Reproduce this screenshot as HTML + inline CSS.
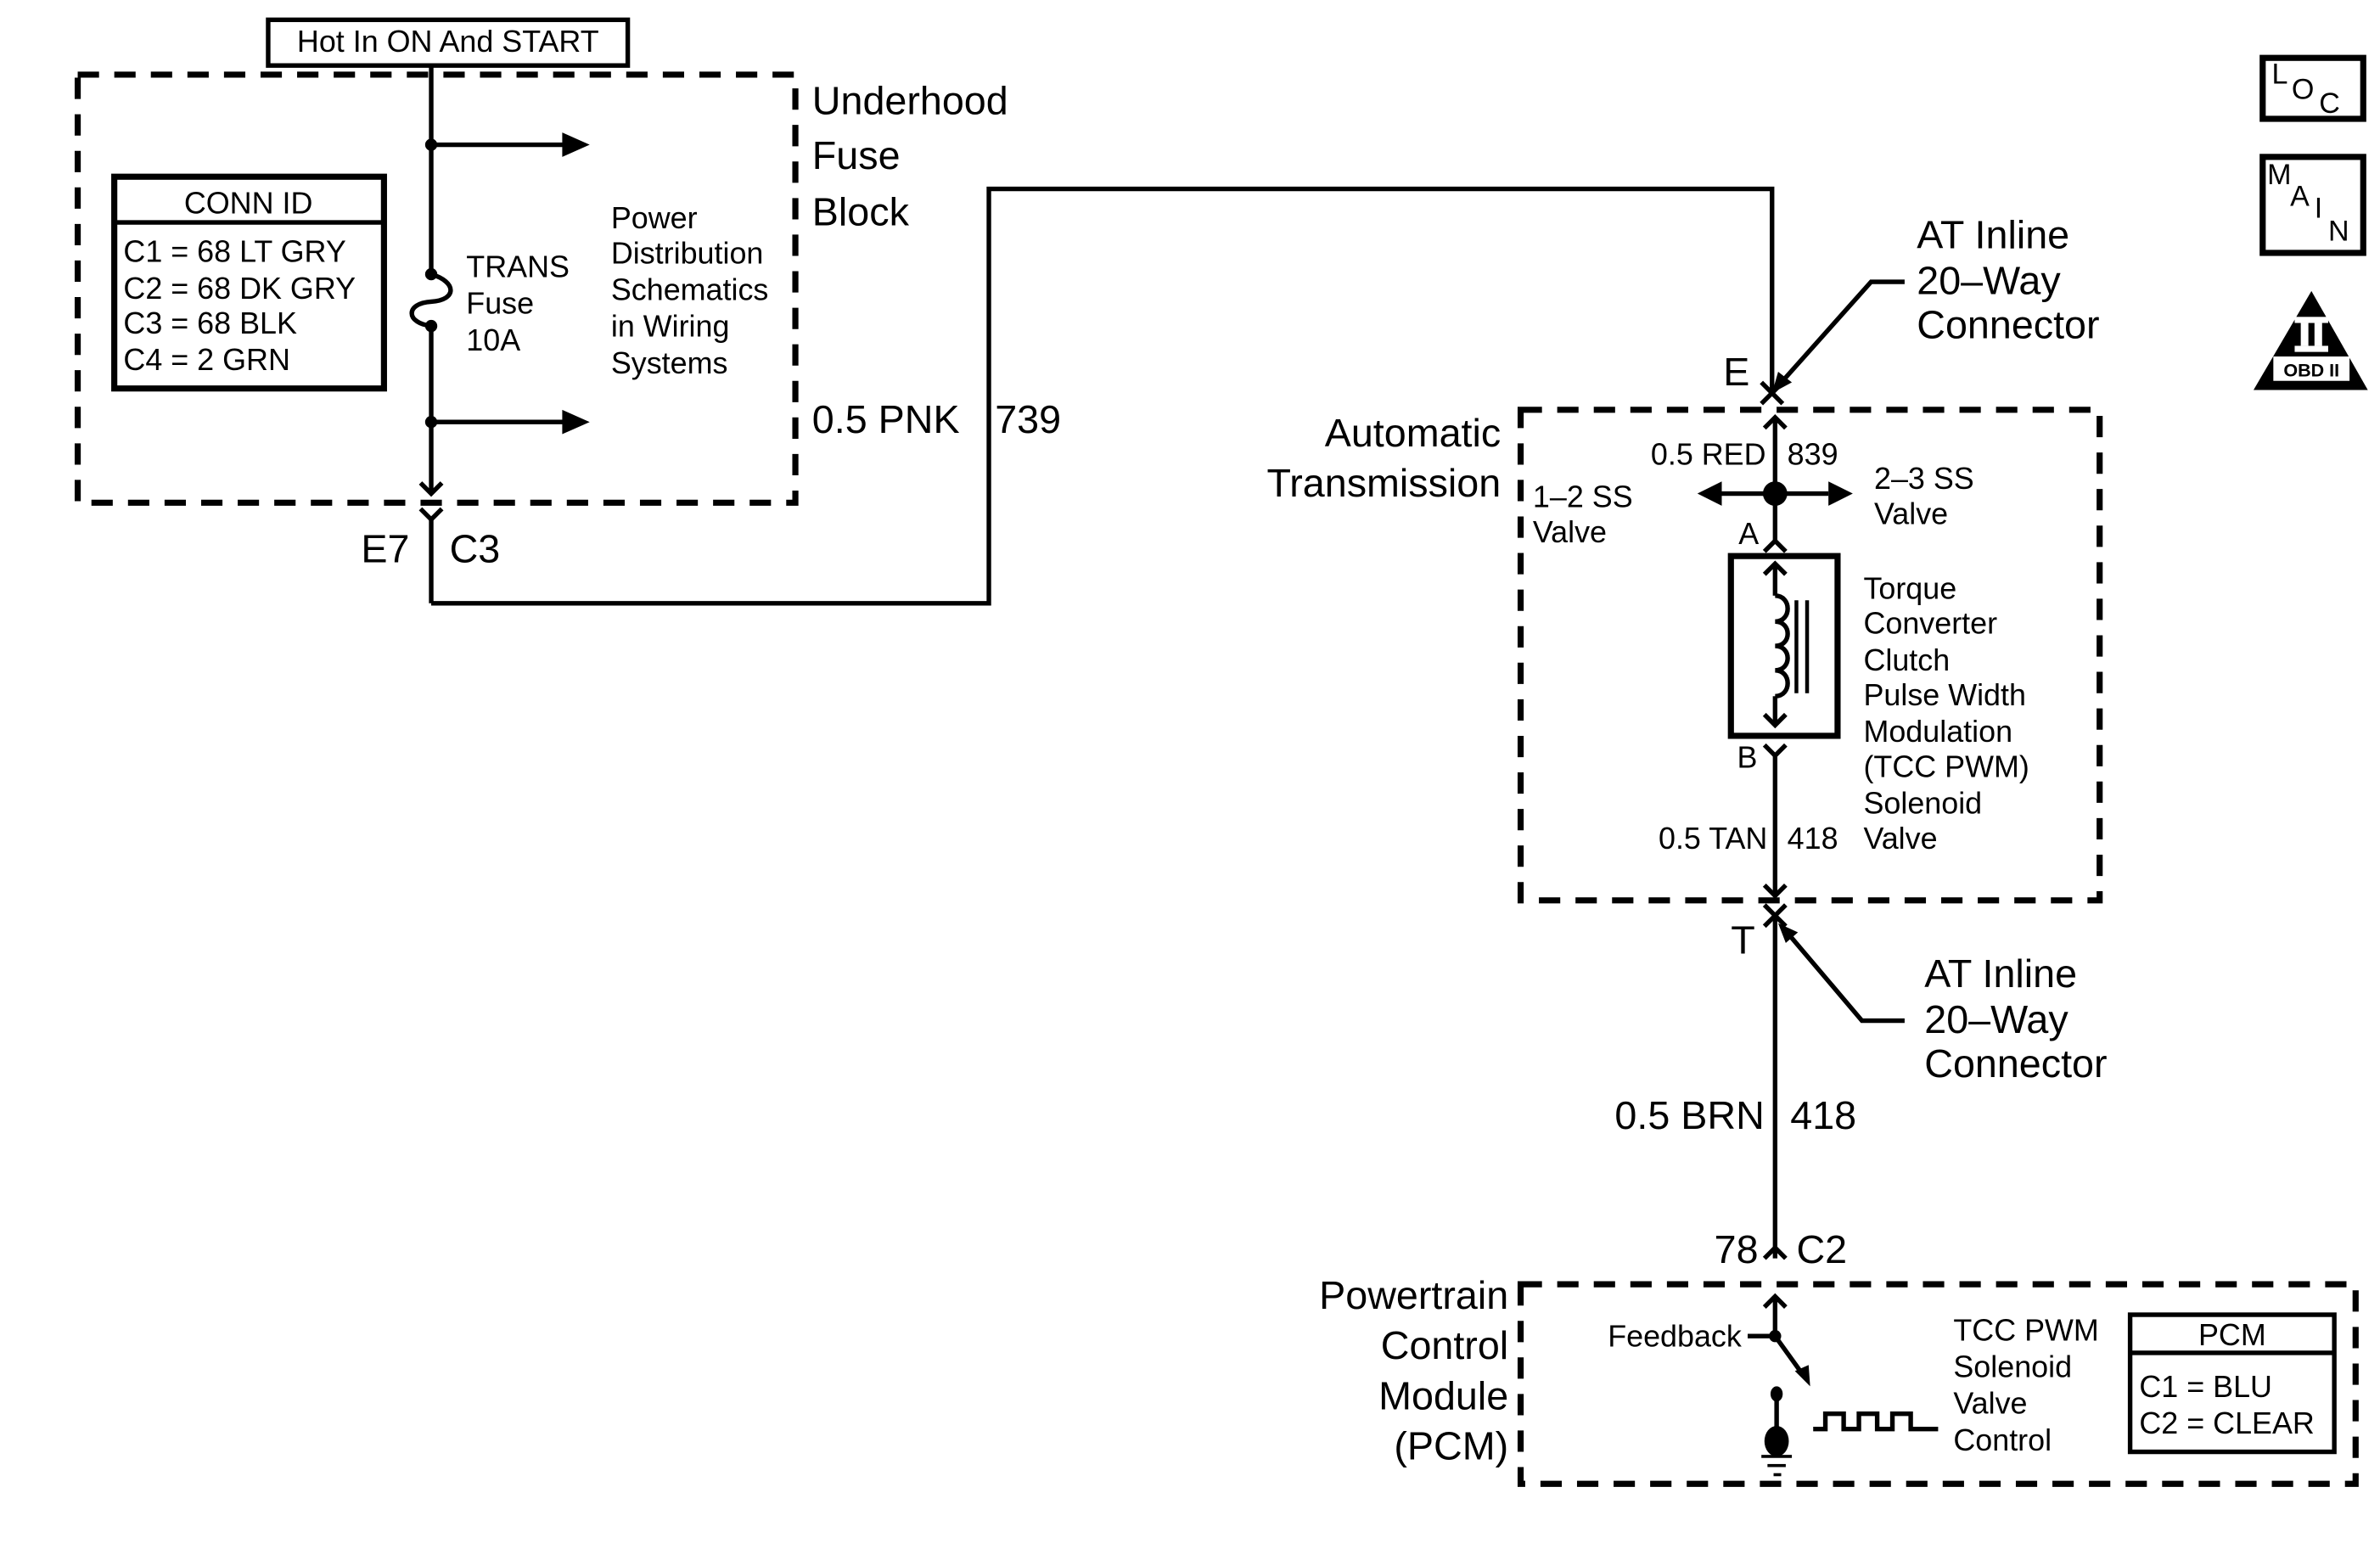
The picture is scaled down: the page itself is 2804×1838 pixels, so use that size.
<!DOCTYPE html>
<html><head><meta charset="utf-8"><style>
html,body{margin:0;padding:0;background:#fff;width:2804px;height:1838px;overflow:hidden}
svg{display:block}
text{font-family:"Liberation Sans",sans-serif;fill:#000}
</style></head><body>
<svg width="2804" height="1838" viewBox="0 0 1562 1024" preserveAspectRatio="none" xmlns="http://www.w3.org/2000/svg">
<rect width="1562" height="1024" fill="#fff"/>
<g stroke="#000" fill="none" stroke-width="3">
<rect x="176" y="13" width="236" height="30"/>
<rect x="51" y="49" width="471" height="281" stroke-width="4" stroke-dasharray="14,10"/>
<rect x="75" y="116" width="177" height="139" stroke-width="4"/>
<line x1="75" y1="146" x2="252" y2="146"/>
<line x1="283" y1="43" x2="283" y2="180"/>
<path d="M283,180 C300,185 300,197 283,198 C266,199 266,212 283,214"/>
<line x1="283" y1="214" x2="283" y2="324"/>
<polyline points="276,317 283,324 290,317"/>
<line x1="283" y1="95" x2="370" y2="95"/>
<line x1="283" y1="277" x2="370" y2="277"/>
<polyline points="276,334 283,341 290,334"/>
<line x1="283" y1="341" x2="283" y2="396"/>
<polyline points="283,396 649,396 649,124 1163,124 1163,258"/>
<polyline points="1156,251 1163,258 1170,251"/>
<polyline points="1156,265 1163,258 1170,265"/>
<path d="M1250,185 L1228,185 L1170,250"/>
<rect x="998" y="269" width="380" height="322" stroke-width="4" stroke-dasharray="14,10"/>
<line x1="1165" y1="274" x2="1165" y2="355"/>
<polyline points="1158,281 1165,274 1172,281"/>
<polyline points="1158,362 1165,355 1172,362"/>
<line x1="1130" y1="324" x2="1200" y2="324"/>
<rect x="1136" y="365" width="70" height="118" stroke-width="4"/>
<line x1="1165" y1="370" x2="1165" y2="391"/>
<polyline points="1158,377 1165,370 1172,377"/>
<path d="M1165,391 C1176,391 1176,408 1165,408 C1176,408 1176,424 1165,424 C1176,424 1176,440 1165,440 C1176,440 1176,457 1165,457"/>
<line x1="1165" y1="457" x2="1165" y2="476"/>
<polyline points="1158,469 1165,476 1172,469"/>
<line x1="1179" y1="394" x2="1179" y2="455" stroke-width="2.5"/>
<line x1="1186" y1="394" x2="1186" y2="455" stroke-width="2.5"/>
<polyline points="1158,489 1165,496 1172,489"/>
<line x1="1165" y1="496" x2="1165" y2="588"/>
<polyline points="1158,581 1165,588 1172,581"/>
<polyline points="1158,594 1165,601 1172,594"/>
<polyline points="1158,608 1165,601 1172,608"/>
<line x1="1165" y1="601" x2="1165" y2="826"/>
<path d="M1250,670 L1222,670 L1172,611"/>
<polyline points="1158,826 1165,819 1172,826"/>
<rect x="998" y="843" width="548" height="131" stroke-width="4" stroke-dasharray="14,10"/>
<line x1="1165" y1="851" x2="1165" y2="877"/>
<polyline points="1158,858 1165,851 1172,858"/>
<line x1="1147" y1="877" x2="1165" y2="877"/>
<line x1="1165" y1="877" x2="1183" y2="902"/>
<line x1="1166" y1="915" x2="1166" y2="944"/>
<polyline points="1190,938 1198,938 1198,928 1210,928 1210,938 1220,938 1220,928 1232,928 1232,938 1242,938 1242,928 1254,928 1254,938 1272,938"/>
<rect x="1398" y="863" width="134" height="90"/>
<line x1="1398" y1="888" x2="1532" y2="888"/>
<rect x="1485" y="38" width="66" height="40" stroke-width="4"/>
<rect x="1485" y="103" width="66" height="63" stroke-width="4"/>
</g>
<g fill="#000">
<circle cx="283" cy="95" r="4"/><circle cx="283" cy="180" r="4"/><circle cx="283" cy="214" r="4"/><circle cx="283" cy="277" r="4"/>
<polygon points="369,87 387,95 369,103"/><polygon points="369,269 387,277 369,285"/>
<polygon points="1163,258 1167,244 1176,251"/>
<circle cx="1165" cy="324" r="8"/>
<polygon points="1114,324 1130,316 1130,332"/><polygon points="1216,324 1200,316 1200,332"/>
<polygon points="1167,606 1180,612 1172,619"/>
<circle cx="1165" cy="877" r="4"/>
<polygon points="1188,910 1178,900 1187,896"/>
<ellipse cx="1166" cy="915" rx="4" ry="5"/>
<ellipse cx="1166" cy="946" rx="8" ry="10"/>
<rect x="1156" y="955" width="20" height="2"/><rect x="1160" y="961" width="12" height="2"/><rect x="1164" y="967" width="5" height="2"/>
<polygon points="1517,191 1554,256 1479,256"/>
</g>
<rect x="1492" y="234" width="50" height="16" fill="#fff"/>
<rect x="1506" y="208" width="22" height="4" fill="#fff"/><rect x="1506" y="227" width="22" height="4" fill="#fff"/>
<rect x="1510" y="212" width="5" height="15" fill="#fff"/><rect x="1519" y="212" width="5" height="15" fill="#fff"/>
<g font-size="20">
<text x="294" y="34" text-anchor="middle">Hot In ON And START</text>
<text x="163" y="140" text-anchor="middle">CONN ID</text>
<text x="81" y="172">C1 = 68 LT GRY</text>
<text x="81" y="196">C2 = 68 DK GRY</text>
<text x="81" y="219">C3 = 68 BLK</text>
<text x="81" y="243">C4 = 2 GRN</text>
<text x="306" y="182">TRANS</text><text x="306" y="206">Fuse</text><text x="306" y="230">10A</text>
<text x="401" y="150">Power</text><text x="401" y="173">Distribution</text><text x="401" y="197">Schematics</text><text x="401" y="221">in Wiring</text><text x="401" y="245">Systems</text>
<text x="1159" y="305" text-anchor="end">0.5 RED</text><text x="1173" y="305">839</text>
<text x="1006" y="333">1–2 SS</text><text x="1006" y="356">Valve</text>
<text x="1230" y="321">2–3 SS</text><text x="1230" y="344">Valve</text>
<text x="1141" y="357">A</text><text x="1140" y="504">B</text>
<text x="1223" y="393">Torque</text><text x="1223" y="416">Converter</text><text x="1223" y="440">Clutch</text><text x="1223" y="463">Pulse Width</text><text x="1223" y="487">Modulation</text><text x="1223" y="510">(TCC PWM)</text><text x="1223" y="534">Solenoid</text><text x="1223" y="557">Valve</text>
<text x="1160" y="557" text-anchor="end">0.5 TAN</text><text x="1173" y="557">418</text>
<text x="1143" y="884" text-anchor="end">Feedback</text>
<text x="1282" y="880">TCC PWM</text><text x="1282" y="904">Solenoid</text><text x="1282" y="928">Valve</text><text x="1282" y="952">Control</text>
<text x="1465" y="883" text-anchor="middle">PCM</text>
<text x="1404" y="917">C1 = BLU</text><text x="1404" y="941">C2 = CLEAR</text>
</g>
<g font-size="26">
<text x="533" y="75">Underhood</text><text x="533" y="111">Fuse</text><text x="533" y="148">Block</text>
<text x="533" y="284">0.5 PNK</text><text x="653" y="284">739</text>
<text x="237" y="369">E7</text><text x="295" y="369">C3</text>
<text x="1258" y="163">AT Inline</text><text x="1258" y="193">20–Way</text><text x="1258" y="222">Connector</text>
<text x="1131" y="253">E</text>
<text x="985" y="293" text-anchor="end">Automatic</text><text x="985" y="326" text-anchor="end">Transmission</text>
<text x="1136" y="626">T</text>
<text x="1263" y="648">AT Inline</text><text x="1263" y="678">20–Way</text><text x="1263" y="707">Connector</text>
<text x="1158" y="741" text-anchor="end">0.5 BRN</text><text x="1175" y="741">418</text>
<text x="1154" y="829" text-anchor="end">78</text><text x="1179" y="829">C2</text>
<text x="990" y="859" text-anchor="end">Powertrain</text><text x="990" y="892" text-anchor="end">Control</text><text x="990" y="925" text-anchor="end">Module</text><text x="990" y="958" text-anchor="end">(PCM)</text>
</g>
<g font-size="19">
<text x="1491" y="55">L</text><text x="1504" y="65">O</text><text x="1522" y="74">C</text>
<text x="1488" y="121">M</text><text x="1503" y="135">A</text><text x="1519" y="143">I</text><text x="1528" y="158">N</text>
</g>
<text x="1517" y="247" font-size="12" font-weight="bold" text-anchor="middle">OBD II</text>
</svg>
</body></html>
